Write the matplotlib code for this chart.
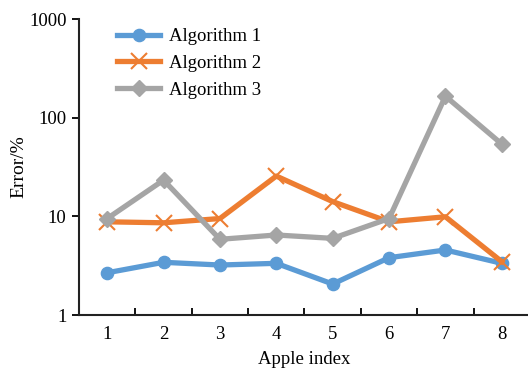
import matplotlib
matplotlib.use("Agg")
import matplotlib.pyplot as plt
import numpy as np

apple_index = [1, 2, 3, 4, 5, 6, 7, 8]
algorithm_1 = [2.68, 3.42, 3.21, 3.34, 2.06, 3.81, 4.56, 3.34]
algorithm_2 = [8.8, 8.6, 9.5, 25.6, 14.1, 8.8, 9.9, 3.47]
algorithm_3 = [9.5, 23.3, 5.85, 6.47, 5.98, 9.5, 165, 54]
y_ticks = [1, 10, 100, 1000]
y_tick_labels = ["1", "10", "100", "1000"]

plt.rcParams['font.family'] = ['Liberation Serif', 'DejaVu Serif']
FS = 13.5

W, H = 528, 369
fig = plt.figure(figsize=(W / 100, H / 100), dpi=100)
ax = fig.add_axes([79 / W, 1 - 315 / H, (530 - 79) / W, (315 - 19) / H])

ax.plot(apple_index, algorithm_1, color='#5B9BD5', lw=3.8, marker='o', ms=8.8,
        label='Algorithm 1')
ax.plot(apple_index, algorithm_2, color='#ED7D31', lw=3.8, marker='x', ms=11,
        mew=1.5, label='Algorithm 2')
ax.plot(apple_index, algorithm_3, color='#A5A5A5', lw=3.8, marker='D', ms=8,
        label='Algorithm 3')

ax.set_yscale('log')
ax.set_ylim(1, 1000)
ax.set_xlim(0.5, 8.5)
ax.set_yticks(y_ticks)
ax.set_yticklabels(y_tick_labels)
ax.yaxis.set_minor_locator(matplotlib.ticker.NullLocator())

ax.set_xticks(apple_index)
ax.set_xticklabels([str(i) for i in apple_index])
ax.set_xticks(np.arange(1.5, 8.5, 1.0), minor=True)
ax.tick_params(axis='x', which='major', length=0, labelsize=FS, pad=8)
ax.tick_params(axis='x', which='minor', direction='in', length=5, width=1.3)
ax.tick_params(axis='y', which='major', direction='out', length=5, width=1.3,
               labelsize=FS, pad=4)

for s in ['top', 'right']:
    ax.spines[s].set_visible(False)
for s in ['left', 'bottom']:
    ax.spines[s].set_linewidth(1.5)
    ax.spines[s].set_color('#222222')

ax.set_xlabel('Apple index', fontsize=FS, labelpad=6)
ax.set_ylabel('Error/%', fontsize=14, labelpad=1)

leg = ax.legend(loc='upper left', bbox_to_anchor=(0.068, 0.995), frameon=False,
                fontsize=FS, handlelength=2.3, handletextpad=0.45,
                labelspacing=0.52, borderaxespad=0)

fig.savefig('out.png', dpi=100)
